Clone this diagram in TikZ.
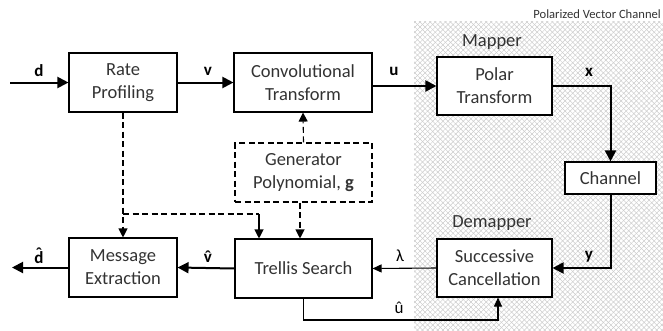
\documentclass[tikz,border=0pt]{standalone}
\usepackage{fontspec}
\setmainfont{Carlito}
\usetikzlibrary{arrows.meta,patterns.meta,calc}
\newcommand\bxfont{\fontsize{18.5}{23}\selectfont}
\newcommand\lblfont{\fontsize{17}{19}\selectfont}
\newcommand\hatof[1]{\accent"02C6 #1}
\begin{document}
\begin{tikzpicture}[x=1pt,y=-1pt,
  box/.style={draw, line width=1.1pt, fill=white, minimum height=59pt, align=center,
    inner sep=0pt, font=\bxfont, text=black!80},
  genbox/.style={box, dashed, dash pattern=on 6pt off 3.5pt},
  lbl/.style={font=\lblfont, inner sep=0pt},
  capt/.style={font=\bxfont, text=black!80, inner sep=0pt},
  thickarrow/.style={line width=2pt, -{Triangle[length=11pt,width=11pt]}},
  thinarrow/.style={line width=1.1pt, -{Triangle[length=9pt,width=8pt]}},
  dasharrow/.style={line width=1.1pt, dash pattern=on 6pt off 3.5pt, -{Triangle[length=9pt,width=9pt]}},
  dashline/.style={line width=1.1pt, dash pattern=on 6pt off 3.5pt}]
\useasboundingbox (0,0) rectangle (663,330);
% shaded polarized vector channel region
\fill[pattern={Lines[angle=45,distance=3.6pt,line width=0.5pt]}, pattern color=black!20] (414,21) rectangle (663,330);
\fill[pattern={Lines[angle=-45,distance=3.6pt,line width=0.5pt]}, pattern color=black!20] (414,21) rectangle (663,330);
\node[anchor=east, font=\fontsize{12.6}{14}\selectfont, text=black!80, inner sep=0pt] (pvc) at (661,14) {Polarized Vector Channel};
\node[capt] (mapper) at (492,42) {Mapper};
\node[capt] (demapper) at (492,223) {Demapper};
% boxes
\node[box, minimum width=108pt] (rp) at (123,82.5) {Rate\\Profiling};
\node[box, minimum width=138pt] (conv) at (303,82.5) {Convolutional\\Transform};
\node[box, minimum width=115pt, minimum height=58pt] (polar) at (494.5,86) {Polar\\Transform};
\node[box, minimum width=91pt, minimum height=32pt] (chan) at (610.5,178) {Channel};
\node[box, minimum width=115pt, minimum height=58pt] (sc) at (494.5,268) {Successive\\Cancellation};
\node[box, minimum width=137pt] (ts) at (303.5,268.5) {Trellis Search};
\node[box, minimum width=108pt] (me) at (123,267.5) {Message\\Extraction};
\node[genbox, minimum width=137pt] (gen) at (303.5,172.5) {Generator\\Polynomial, \textbf{g}};
% coordinates
\coordinate (din) at (10,82.5);
\coordinate (dout) at (12,267.5);
\coordinate (ubot) at (303.5,320);
\coordinate (djoin) at (123,214);
\coordinate (tjoin) at (259,214);
% solid thick arrows
\draw[thickarrow] (din) -- (rp.west);
\draw[thickarrow] (rp.east) -- (conv.west);
\draw[thickarrow] (polar.west -| conv.east) -- (polar.west);
\draw[thickarrow] (polar.east) -- (chan.north |- polar.east) -- (chan.north);
\draw[thickarrow] (chan.south) -- (chan.south |- sc.east) -- (sc.east);
\draw[thickarrow] (ts.west) -- (me.east);
\draw[thickarrow] (me.west) -- (dout);
% thin arrows
\draw[thinarrow] (sc.west) -- (ts.east);
\draw[thinarrow] (ts.south) -- (ubot) -| ([xshift=3.5pt]sc.south);
% dashed
\draw[dasharrow] (rp.south) -- (me.north);
\draw[dashline] (djoin) -- (tjoin);
\draw[line width=1.1pt, -{Triangle[length=9pt,width=9pt]}] (tjoin) -- (tjoin |- ts.north);
\draw[dasharrow] ([xshift=-3.5pt]gen.south) -- ([xshift=-3.5pt]ts.north);
\draw[dasharrow] (gen.north) -- (conv.south);
% labels
\node[lbl] (ld) at (39,71) {\textbf{d}};
\node[lbl] (lv) at (208,71) {\textbf{v}};
\node[lbl] (lu) at (394,71) {\textbf{u}};
\node[lbl] (lx) at (589,72) {\textbf{x}};
\node[lbl] (ly) at (589,257) {\textbf{y}};
\node[lbl] (ldh) at (39,256) {\textbf{\hatof{d}}};
\node[lbl] (lvh) at (208,257) {\textbf{\hatof{v}}};
\node[lbl] (llam) at (400,256) {λ};
\node[lbl] (luh) at (399,308) {û};
\end{tikzpicture}
\end{document}
